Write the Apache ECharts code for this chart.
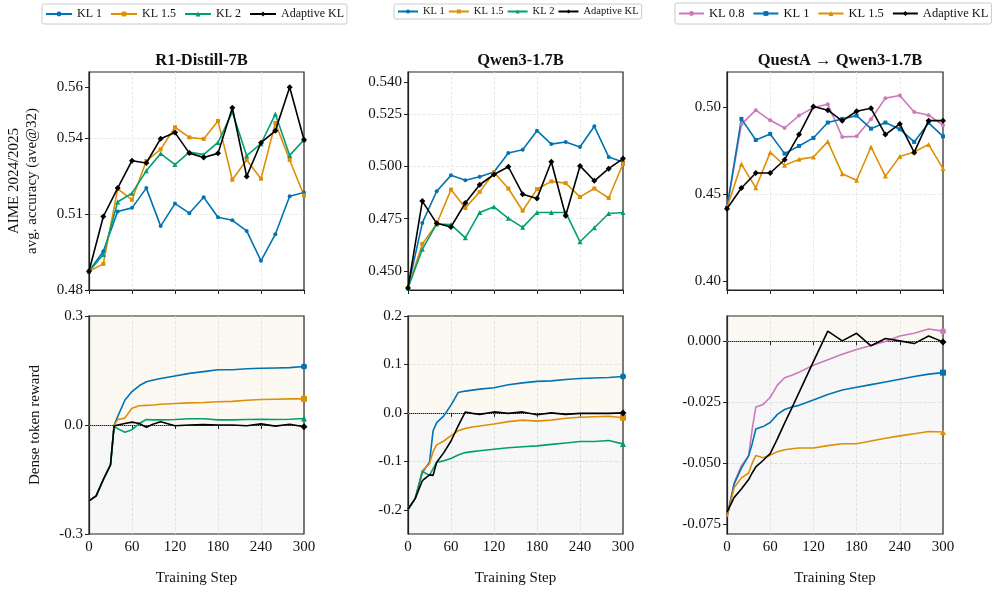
<!DOCTYPE html>
<html>
<head>
<meta charset="utf-8">
<script src="https://cdn.jsdelivr.net/npm/echarts@6/dist/echarts.min.js"></script>
<style>
  html, body { margin: 0; padding: 0; background: #fff; }
  #main { width: 999px; height: 593px; }
</style>
</head>
<body>
<div id="main"></div>
<script>
// training steps
const stepsTop = [0, 20, 40, 60, 80, 100, 120, 140, 160, 180, 200, 220, 240, 260, 280, 300];
const stepsBottom = [0, 10, 20, 30, 35, 40, 50, 60, 70, 80, 90, 100, 120, 140, 160, 180, 200, 220, 240, 260, 280, 300];

// R1-Distill-7B, AIME accuracy
const r1Kl1 = [0.4874, 0.4953, 0.5110, 0.5124, 0.5202, 0.5052, 0.5141, 0.5103, 0.5166, 0.5087, 0.5075, 0.5033, 0.4915, 0.5020, 0.5170, 0.5185];
const r1Kl15 = [0.4874, 0.4903, 0.5199, 0.5156, 0.5309, 0.5355, 0.5442, 0.5402, 0.5396, 0.5467, 0.5235, 0.5313, 0.5239, 0.5459, 0.5313, 0.5173];
const r1Kl2 = [0.4874, 0.4940, 0.5147, 0.5182, 0.5270, 0.5338, 0.5295, 0.5344, 0.5334, 0.5382, 0.5502, 0.5330, 0.5377, 0.5494, 0.5331, 0.5393];
const r1Adaptive = [0.4874, 0.5090, 0.5202, 0.5310, 0.5301, 0.5397, 0.5421, 0.5340, 0.5323, 0.5339, 0.5519, 0.5248, 0.5381, 0.5428, 0.5600, 0.5393];

// Qwen3-1.7B, AIME accuracy
const qwKl1 = [0.4420, 0.4730, 0.4881, 0.4957, 0.4934, 0.4950, 0.4973, 0.5064, 0.5079, 0.5170, 0.5106, 0.5116, 0.5092, 0.5191, 0.5045, 0.5021];
const qwKl15 = [0.4420, 0.4630, 0.4725, 0.4889, 0.4801, 0.4878, 0.4971, 0.4894, 0.4788, 0.4891, 0.4928, 0.4920, 0.4854, 0.4894, 0.4849, 0.5011];
const qwKl2 = [0.4420, 0.4604, 0.4725, 0.4722, 0.4659, 0.4780, 0.4807, 0.4752, 0.4709, 0.4780, 0.4780, 0.4780, 0.4640, 0.4707, 0.4775, 0.4780];
const qwAdaptive = [0.4420, 0.4834, 0.4728, 0.4711, 0.4825, 0.4912, 0.4961, 0.4998, 0.4867, 0.4847, 0.5022, 0.4764, 0.5002, 0.4931, 0.4989, 0.5037];

// QuestA -> Qwen3-1.7B, AIME accuracy
const qaKl08 = [0.4421, 0.4900, 0.4981, 0.4923, 0.4879, 0.4950, 0.4996, 0.5015, 0.4828, 0.4831, 0.4929, 0.5050, 0.5065, 0.4971, 0.4952, 0.4895];
const qaKl1 = [0.4421, 0.4931, 0.4810, 0.4845, 0.4732, 0.4776, 0.4822, 0.4910, 0.4931, 0.4950, 0.4875, 0.4910, 0.4872, 0.4799, 0.4908, 0.4831];
const qaKl15 = [0.4421, 0.4672, 0.4536, 0.4739, 0.4665, 0.4699, 0.4713, 0.4801, 0.4617, 0.4579, 0.4770, 0.4603, 0.4715, 0.4741, 0.4785, 0.4646];
const qaAdaptive = [0.4416, 0.4535, 0.4621, 0.4621, 0.4697, 0.4841, 0.5002, 0.4981, 0.4920, 0.4975, 0.4992, 0.4841, 0.4902, 0.4739, 0.4921, 0.4921];

// dense token reward
const r1RwKl1 = [-0.209, -0.195, -0.150, -0.110, -0.001, 0.023, 0.068, 0.092, 0.108, 0.119, 0.124, 0.128, 0.135, 0.142, 0.147, 0.152, 0.152, 0.155, 0.156, 0.157, 0.158, 0.161];
const r1RwKl15 = [-0.209, -0.195, -0.150, -0.110, -0.001, 0.015, 0.019, 0.046, 0.053, 0.054, 0.055, 0.057, 0.059, 0.061, 0.062, 0.064, 0.065, 0.068, 0.070, 0.071, 0.072, 0.072];
const r1RwKl2 = [-0.209, -0.195, -0.150, -0.110, -0.004, -0.010, -0.020, -0.013, 0.004, 0.015, 0.014, 0.014, 0.015, 0.017, 0.017, 0.014, 0.014, 0.015, 0.016, 0.015, 0.016, 0.018];
const r1RwAdaptive = [-0.209, -0.195, -0.150, -0.110, -0.003, 0.000, 0.004, 0.008, 0.004, -0.006, 0.003, 0.009, -0.002, 0.000, 0.001, 0.000, 0.000, -0.002, 0.003, -0.003, 0.002, -0.005];

const qwRwKl1 = [-0.199, -0.177, -0.123, -0.102, -0.037, -0.020, -0.006, 0.016, 0.042, 0.045, 0.047, 0.049, 0.052, 0.058, 0.062, 0.065, 0.066, 0.069, 0.071, 0.072, 0.073, 0.075];
const qwRwKl15 = [-0.199, -0.177, -0.119, -0.105, -0.080, -0.066, -0.058, -0.047, -0.037, -0.032, -0.029, -0.027, -0.023, -0.018, -0.015, -0.017, -0.015, -0.011, -0.009, -0.008, -0.007, -0.010];
const qwRwKl2 = [-0.199, -0.177, -0.121, -0.129, -0.115, -0.102, -0.099, -0.094, -0.087, -0.082, -0.080, -0.078, -0.075, -0.072, -0.070, -0.068, -0.065, -0.062, -0.059, -0.059, -0.057, -0.064];
const qwRwAdaptive = [-0.199, -0.177, -0.140, -0.128, -0.129, -0.102, -0.082, -0.058, -0.027, 0.002, -0.001, -0.003, 0.002, -0.001, 0.002, -0.004, 0.000, -0.003, -0.001, -0.001, -0.001, 0.000];

const qaRwKl08 = [-0.072, -0.058, -0.051, -0.047, -0.036, -0.027, -0.026, -0.023, -0.018, -0.015, -0.014, -0.0127, -0.0099, -0.0076, -0.0054, -0.0034, -0.0018, -0.0001, 0.0021, 0.0032, 0.0050, 0.0041];
const qaRwKl1 = [-0.072, -0.0585, -0.052, -0.047, -0.042, -0.036, -0.035, -0.0333, -0.030, -0.028, -0.027, -0.0263, -0.0241, -0.0219, -0.020, -0.0189, -0.0178, -0.0167, -0.0156, -0.0145, -0.0135, -0.0129];
const qaRwKl15 = [-0.072, -0.060, -0.056, -0.054, -0.050, -0.0468, -0.0478, -0.0467, -0.0453, -0.0445, -0.0441, -0.0438, -0.0438, -0.0428, -0.042, -0.042, -0.0409, -0.0398, -0.0388, -0.0379, -0.037, -0.0372];
const qaRwAdaptive = [-0.070, -0.064, -0.0606, -0.0567, -0.054, -0.0515, -0.0489, -0.0461, -0.040, -0.0336, -0.0274, -0.0211, -0.0084, 0.0041, 0.0001, 0.0032, -0.0019, 0.0011, 0.0001, -0.0010, 0.0021, -0.0003];

// tick labels
const yTicks = [
  [0.48, 0.51, 0.54, 0.56],
  [0.45, 0.475, 0.5, 0.525, 0.54],
  [0.40, 0.45, 0.50],
  [-0.3, 0.0, 0.3],
  [-0.2, -0.1, 0.0, 0.1, 0.2],
  [-0.075, -0.05, -0.025, 0.0]
];
const yDigits = [2, 3, 2, 1, 1, 3];
const yRange = [[0.48, 0.566], [0.441, 0.545], [0.395, 0.52], [-0.3, 0.3], [-0.25, 0.2], [-0.079, 0.0103]];
const titles = ['R1-Distill-7B', 'Qwen3-1.7B', 'QuestA \u2192 Qwen3-1.7B'];

const FONT = '"Liberation Serif", "DejaVu Serif", serif';
const BLUE = '#0173b2', ORANGE = '#de8f05', GREEN = '#029e73', PINK = '#cc78bc', BLACK = '#000';

const chart = echarts.init(document.getElementById('main'));

const grids = [
  { left: 89, top: 72, width: 215, height: 218 },
  { left: 408, top: 72, width: 215, height: 218 },
  { left: 727, top: 72, width: 216, height: 218 },
  { left: 89, top: 316, width: 215, height: 218 },
  { left: 408, top: 316, width: 215, height: 218 },
  { left: 727, top: 316, width: 216, height: 218 }
].map(g => Object.assign(g, { show: true, borderColor: '#222', borderWidth: 1.2, backgroundColor: 'transparent' }));

const gridLine = { type: 'dashed', color: '#e3e3e3', width: 0.8 };

const xAxes = grids.map((g, i) => ({
  gridIndex: i, type: 'value', min: 0, max: 300, interval: 60,
  axisLine: { show: true, lineStyle: { color: '#222', width: 1.2 } },
  axisTick: { show: true, length: 4, lineStyle: { color: '#222' } },
  axisLabel: { show: i >= 3, fontSize: 15, color: '#111', fontFamily: FONT, margin: 6 },
  splitLine: { show: true, showMinLine: false, showMaxLine: false, lineStyle: gridLine },
  name: i >= 3 ? 'Training Step' : '',
  nameLocation: 'middle', nameGap: 37,
  nameTextStyle: { fontSize: 15, color: '#111', fontFamily: FONT }
}));

const yAxes = grids.map((g, i) => ({
  gridIndex: i, type: 'value', min: yRange[i][0], max: yRange[i][1],
  axisLine: { show: true, lineStyle: { color: '#222', width: 1.2 } },
  axisTick: { show: true, length: 4, lineStyle: { color: '#222' }, customValues: yTicks[i] },
  axisLabel: {
    fontSize: 15, color: '#111', fontFamily: FONT, margin: 6,
    customValues: yTicks[i],
    formatter: v => Number(v).toFixed(yDigits[i])
  },
  splitLine: { show: true, showMinLine: false, showMaxLine: false, lineStyle: gridLine },
  name: i === 0 ? 'AIME 2024/2025\navg. accuracy (ave@32)' : (i === 3 ? 'Dense token reward' : ''),
  nameLocation: 'middle', nameRotate: 90,
  nameGap: i === 0 ? 48 : 45,
  nameTextStyle: { fontSize: 15, color: '#111', fontFamily: FONT, lineHeight: 18 }
}));

function topSeries(name, ys, color, symbol, size, gi) {
  return {
    name, type: 'line', xAxisIndex: gi, yAxisIndex: gi,
    data: stepsTop.map((s, k) => [s, ys[k]]),
    symbol, symbolSize: size, showSymbol: true,
    lineStyle: { color, width: 1.6 }, itemStyle: { color },
    z: color === BLACK ? 5 : 3, animation: false
  };
}

function bottomSeries(name, ys, color, symbol, size, gi) {
  return {
    name, type: 'line', xAxisIndex: gi, yAxisIndex: gi,
    data: stepsBottom.map((s, k) => (k === stepsBottom.length - 1
      ? { value: [s, ys[k]] } : { value: [s, ys[k]], symbol: 'none' })),
    symbol, symbolSize: size, showSymbol: true,
    lineStyle: { color, width: 1.6 }, itemStyle: { color },
    z: color === BLACK ? 5 : 3, animation: false
  };
}

function withBands(s, gi) {
  s.markArea = {
    silent: true,
    data: [
      [{ yAxis: 0, itemStyle: { color: 'rgba(215,170,80,0.07)' } }, { yAxis: yRange[gi][1] }],
      [{ yAxis: yRange[gi][0], itemStyle: { color: 'rgba(0,0,0,0.03)' } }, { yAxis: 0 }]
    ]
  };
  return s;
}

function withZero(s) {
  s.markLine = {
    silent: true, symbol: 'none', label: { show: false },
    lineStyle: { type: 'dotted', color: '#999', width: 1 },
    data: [{ yAxis: 0 }]
  };
  return s;
}

const series = [
  topSeries('KL 1', r1Kl1, BLUE, 'circle', 4, 0),
  topSeries('KL 1.5', r1Kl15, ORANGE, 'rect', 4, 0),
  topSeries('KL 2', r1Kl2, GREEN, 'triangle', 5, 0),
  topSeries('Adaptive KL', r1Adaptive, BLACK, 'diamond', 6, 0),

  topSeries('KL 1', qwKl1, BLUE, 'circle', 4, 1),
  topSeries('KL 1.5', qwKl15, ORANGE, 'rect', 4, 1),
  topSeries('KL 2', qwKl2, GREEN, 'triangle', 5, 1),
  topSeries('Adaptive KL', qwAdaptive, BLACK, 'diamond', 6, 1),

  topSeries('KL 0.8', qaKl08, PINK, 'circle', 4, 2),
  topSeries('KL 1 ', qaKl1, BLUE, 'rect', 4, 2),
  topSeries('KL 1.5 ', qaKl15, ORANGE, 'triangle', 5, 2),
  topSeries('Adaptive KL', qaAdaptive, BLACK, 'diamond', 6, 2),

  withBands(bottomSeries('KL 1', r1RwKl1, BLUE, 'circle', 6, 3), 3),
  bottomSeries('KL 1.5', r1RwKl15, ORANGE, 'rect', 6, 3),
  bottomSeries('KL 2', r1RwKl2, GREEN, 'triangle', 6, 3),
  withZero(bottomSeries('Adaptive KL', r1RwAdaptive, BLACK, 'diamond', 7, 3)),

  withBands(bottomSeries('KL 1', qwRwKl1, BLUE, 'circle', 6, 4), 4),
  bottomSeries('KL 1.5', qwRwKl15, ORANGE, 'rect', 6, 4),
  bottomSeries('KL 2', qwRwKl2, GREEN, 'triangle', 6, 4),
  withZero(bottomSeries('Adaptive KL', qwRwAdaptive, BLACK, 'diamond', 7, 4)),

  withBands(bottomSeries('KL 0.8', qaRwKl08, PINK, 'circle', 6, 5), 5),
  bottomSeries('KL 1 ', qaRwKl1, BLUE, 'rect', 6, 5),
  bottomSeries('KL 1.5 ', qaRwKl15, ORANGE, 'triangle', 6, 5),
  withZero(bottomSeries('Adaptive KL', qaRwAdaptive, BLACK, 'diamond', 7, 5))
];

const legendBase = {
  orient: 'horizontal', borderColor: '#ccc', borderWidth: 1, borderRadius: 2,
  backgroundColor: '#fff', selectedMode: false,
  formatter: n => n.trim()
};

const option = {
  backgroundColor: '#fff',
  animation: false,
  textStyle: { fontFamily: FONT },
  title: titles.map((t, i) => ({
    text: t, left: [196.5, 515.5, 835][i], top: 47, textAlign: 'center',
    textStyle: { fontSize: 16.5, fontWeight: 'bold', color: '#111', fontFamily: FONT }
  })),
  legend: [
    Object.assign({}, legendBase, {
      left: 42, top: 4, padding: [4, 3], itemWidth: 26, itemHeight: 6, itemGap: 8,
      data: ['KL 1', 'KL 1.5', 'KL 2', 'Adaptive KL'],
      textStyle: { fontSize: 12, color: '#111', fontFamily: FONT }
    }),
    Object.assign({}, legendBase, {
      left: 394, top: 4, padding: [2, 3], itemWidth: 20, itemHeight: 5, itemGap: 3,
      data: ['KL 1', 'KL 1.5', 'KL 2', 'Adaptive KL'],
      textStyle: { fontSize: 10.5, color: '#111', fontFamily: FONT }
    }),
    Object.assign({}, legendBase, {
      left: 675, top: 3, width: 322, padding: [4, 3], itemWidth: 25, itemHeight: 6, itemGap: 8,
      data: ['KL 0.8', 'KL 1 ', 'KL 1.5 ', 'Adaptive KL'],
      textStyle: { fontSize: 12.5, color: '#111', fontFamily: FONT }
    })
  ],
  grid: grids,
  xAxis: xAxes,
  yAxis: yAxes,
  series
};

chart.setOption(option);
</script>
</body>
</html>
